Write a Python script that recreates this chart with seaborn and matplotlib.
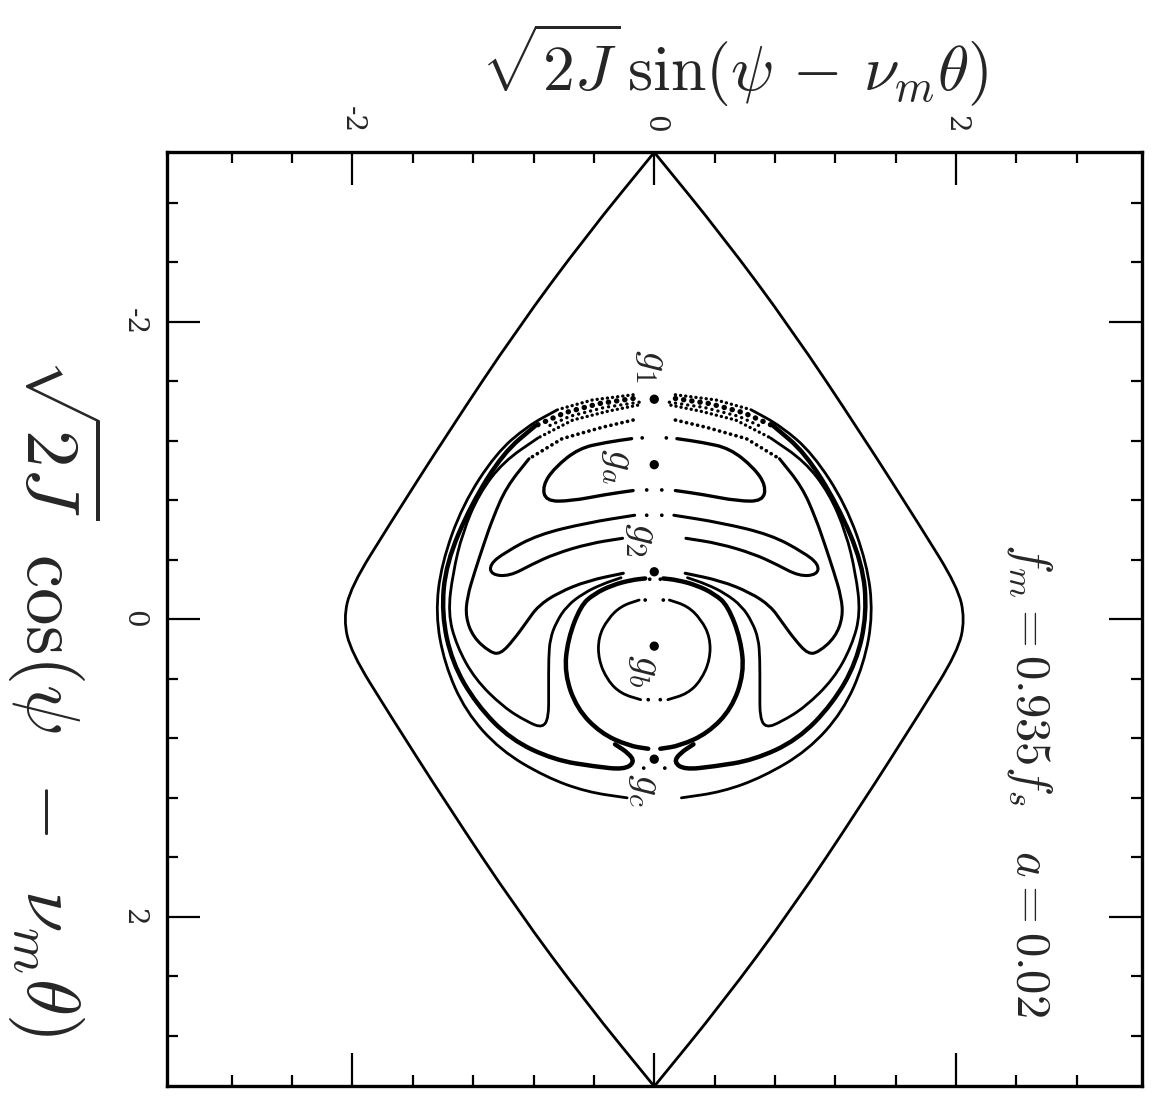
import numpy as np
import matplotlib.pyplot as plt
import seaborn as sns
from matplotlib.path import Path
from matplotlib.patches import PathPatch

sns.set_theme(style="white")
plt.rcParams["mathtext.fontset"] = "cm"
plt.rcParams["font.family"] = ["DejaVu Serif"]

# all curves are the left half (h < 0); the right half is the mirror image
# h = sqrt(2J) sin(psi - nu_m theta), v = sqrt(2J) cos(psi - nu_m theta)

# outer separatrix (lens), left half from top tip to bottom tip
lens_h = [0.0, -0.45, -0.91, -1.37, -1.76, -2.01, -2.06, -2.01, -1.76, -1.37, -0.91, -0.45, 0.0]
lens_v = [-3.14, -2.58, -1.95, -1.25, -0.63, -0.22, 0.0, 0.22, 0.63, 1.25, 1.95, 2.58, 3.14]

# outermost ring
ring_h = [-0.14, -0.41, -0.64, -0.84, -1.05, -1.27, -1.41, -1.45, -1.39, -1.25, -1.02, -0.72, -0.45, -0.18]
ring_v = [-1.51, -1.475, -1.41, -1.30, -1.115, -0.77, -0.375, -0.036, 0.30, 0.62, 0.88, 1.06, 1.16, 1.20]

# outer loop through g_c (thick), ends in the hook near g_c
loopc_h = [-0.14, -0.37, -0.59, -0.79, -1.0, -1.215, -1.38, -1.41, -1.34, -1.18, -0.95, -0.66, -0.39, -0.20, -0.13, -0.17, -0.26]
loopc_v = [-1.485, -1.45, -1.39, -1.30, -1.12, -0.77, -0.377, -0.04, 0.29, 0.57, 0.81, 0.946, 0.99, 1.01, 0.96, 0.90, 0.84]

# chaotic layer round g_1 (points only)
layer_h = [-0.10, -0.33, -0.56, -0.70]
layer_v = [-1.46, -1.425, -1.365, -1.30]

# outer branch through g_2 with the tail beside the g_b circle
tail_h = [-0.11, -0.305, -0.54, -0.77, -1.0, -1.16, -1.27, -1.335, -1.367, -1.31, -1.19, -1.0, -0.84, -0.74,
          -0.70, -0.70, -0.70, -0.69, -0.65, -0.58, -0.47, -0.35, -0.22]
tail_v = [-1.44, -1.40, -1.34, -1.22, -1.06, -0.846, -0.585, -0.31, -0.04, 0.177, 0.40, 0.59, 0.69, 0.73,
          0.66, 0.478, 0.256, 0.13, 0.02, -0.09, -0.175, -0.235, -0.28]

# inner loop through g_2 around g_a
wing_h = [-0.14, -0.35, -0.61, -0.83, -0.98, -1.07, -1.13, -1.19, -1.24, -1.25, -1.20, -1.09, -1.02,
          -0.93, -0.845, -0.77, -0.636, -0.44, -0.205]
wing_v = [-1.34, -1.29, -1.215, -1.08, -0.89, -0.68, -0.505, -0.32, -0.15, -0.015, 0.12, 0.22, 0.235,
          0.135, 0.016, -0.09, -0.18, -0.26, -0.31]

# thin lobe below g_a
lobe_h = [-0.13, -0.44, -0.77, -0.99, -1.09, -1.08, -0.96, -0.81, -0.66, -0.43, -0.21]
lobe_v = [-0.70, -0.65, -0.57, -0.45, -0.37, -0.30, -0.29, -0.37, -0.44, -0.51, -0.545]

# kidney around g_a
kid_h = [-0.15, -0.32, -0.50, -0.66, -0.74, -0.72, -0.555, -0.32, -0.14]
kid_v = [-1.215, -1.19, -1.15, -1.02, -0.90, -0.795, -0.795, -0.84, -0.866]

# thick circle around g_b
circ_h = [-0.06, -0.15, -0.28, -0.40, -0.487, -0.573, -0.595, -0.513, -0.355, -0.17, -0.04]
circ_v = [-0.275, -0.265, -0.23, -0.17, -0.093, 0.134, 0.364, 0.60, 0.765, 0.85, 0.87]

# small circle around g_b
inner_h = [-0.10, -0.22, -0.31, -0.37, -0.37, -0.31, -0.22, -0.09]
inner_v = [-0.13, -0.09, 0.0, 0.12, 0.27, 0.41, 0.50, 0.54]

# sparse points left in the gaps on the centre line
gap_h = [-0.05, 0.05, -0.05, 0.05, -0.06, 0.06, -0.04, 0.04, -0.08, 0.08, -0.03, 0.04, -0.07, 0.07]
gap_v = [-0.87, -0.87, -0.70, -0.70, -0.13, -0.13, 0.54, 0.54, -1.22, -1.22, -0.27, -0.27, 1.00, 1.00]

# fixed points on the centre line
pt_names = ["g_1", "g_a", "g_2", "g_b", "g_c"]
pt_h = [0.0, 0.0, 0.0, 0.0, 0.0]
pt_v = [-1.48, -1.04, -0.32, 0.18, 0.94]
lab_h = [0.0, -0.23, -0.07, -0.05, -0.05]
lab_v = [-1.70, -1.03, -0.54, 0.35, 1.15]

fig = plt.figure(figsize=(11.59, 11.2), dpi=100)
ax = fig.add_axes([0.144, 0.030, 0.841, 0.834])


def smooth(x, y):
    # quadratic B-spline drawn through the traced points
    p = np.column_stack([x, y])
    m = (p[:-1] + p[1:]) / 2
    verts = [p[0], m[0]]
    codes = [Path.MOVETO, Path.LINETO]
    for i in range(1, len(p) - 1):
        verts += [p[i], m[i]]
        codes += [Path.CURVE3, Path.CURVE3]
    verts.append(p[-1])
    codes.append(Path.LINETO)
    return Path(verts, codes)


def draw(hs, vs, lw, chaos=False):
    h = np.array(hs, dtype=float)
    v = np.array(vs, dtype=float)
    for sh in (1, -1):
        k = 0
        if chaos:
            top = (h > -0.62) & (v < -1.2)
            k = int(np.argmax(~top))
            ax.plot(sh * h[:k + 1], v[:k + 1], color="black", lw=lw * 1.2,
                    ls=(0, (0.05, 1.5)), dash_capstyle="round")
        ax.add_patch(PathPatch(smooth(sh * h[k:], v[k:]), fill=False, edgecolor="black",
                               lw=lw, capstyle="round", joinstyle="round"))


draw(lens_h, lens_v, 2.0)
draw(ring_h, ring_v, 2.0, chaos=True)
draw(loopc_h, loopc_v, 3.2, chaos=True)
draw(tail_h, tail_v, 2.0, chaos=True)
draw(wing_h, wing_v, 2.2, chaos=True)
draw(lobe_h, lobe_v, 2.2)
draw(kid_h, kid_v, 2.4)
draw(circ_h, circ_v, 3.2)
draw(inner_h, inner_v, 2.0)

lyh = np.array(layer_h)
for sh in (1, -1):
    ax.plot(sh * lyh, layer_v, color="black", lw=2.4, ls=(0, (0.05, 1.8)), dash_capstyle="round")

sns.scatterplot(x=gap_h, y=gap_v, s=7, color="black", edgecolor="none", ax=ax, zorder=3)
sns.scatterplot(x=pt_h, y=pt_v, s=45, color="black", edgecolor="none", ax=ax, zorder=3)
for n, x, y in zip(pt_names, lab_h, lab_v):
    ax.text(x, y, "$%s$" % n, rotation=-90, ha="center", va="center", fontsize=30)

fig.text(0.889, 0.304, r"$f_m = 0.935f_s\quad a = 0.02$", rotation=-90,
         ha="center", va="center", fontsize=35)

ax.set_xlim(-3.23, 3.23)
ax.set_ylim(3.14, -3.14)
ax.xaxis.tick_top()
ax.set_xticks([-2, 0, 2])
ax.set_xticks(np.arange(-2.8, 3.0, 0.4), minor=True)
ax.set_yticks([-2, 0, 2])
ax.set_yticks(np.arange(-2.8, 3.0, 0.4), minor=True)
ax.set_xticklabels(["-2", "0", "2"], rotation=-90, fontsize=20)
ax.set_yticklabels(["-2", "0", "2"], rotation=-90, fontsize=20, va="center")
ax.tick_params(which="both", direction="in", top=True, bottom=True, left=True, right=True,
               color="black", width=1.6)
ax.tick_params(which="major", length=24, pad=14)
ax.tick_params(which="minor", length=8)
for s in ax.spines.values():
    s.set_color("black")
    s.set_linewidth(2.4)

fig.text(0.634, 0.942, r"$\sqrt{2J}\,\sin(\psi\,-\,\nu_m\theta)$", ha="center", va="center", fontsize=46)
fig.text(0.047, 0.378, r"$\sqrt{2J}\;\;\cos(\psi\;\;-\;\;\nu_m\theta)$", rotation=-90,
         ha="center", va="center", fontsize=54)

fig.savefig("out.png", dpi=100, facecolor="white")
